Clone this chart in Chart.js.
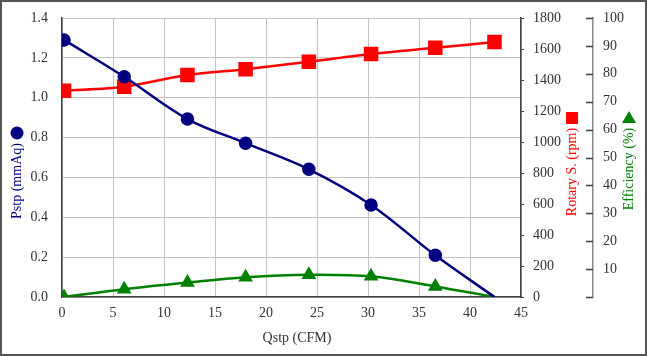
<!DOCTYPE html>
<html>
<head>
<meta charset="utf-8">
<script src="https://cdn.jsdelivr.net/npm/chart.js@4.4.1/dist/chart.umd.min.js"></script>
<style>
  html, body { margin: 0; padding: 0; background: #fff; }
  #wrap { width: 647px; height: 356px; position: relative; }
</style>
</head>
<body>
<div id="wrap"><canvas id="fanChart" width="647" height="356"></canvas></div>
<script>
// data
const qstp = [0.2, 6.1, 12.3, 18.0, 24.2, 30.3, 36.6, 42.4];      // CFM
const pstp = [1.29, 1.105, 0.893, 0.772, 0.641, 0.462, 0.209, 0.0]; // mmAq
const rotarySpeed = [1331, 1357, 1432, 1470, 1518, 1568, 1608, 1645]; // rpm
const efficiency = [0.0, 2.8, 5.2, 7.1, 8.0, 7.4, 3.8, 0.0];        // %

const xTicks = [0, 5, 10, 15, 20, 25, 30, 35, 40, 45];

const FONT = 'Liberation Serif';
const NAVY = '#000080';
const RED = '#ff0000';
const GREEN = '#008000';
const TEXT = '#333333';

function toPoints(ys) {
    return qstp.map((x, i) => ({ x: x, y: ys[i] }));
}

// hide the marker on the last point (where the curve hits the axis)
function hideLast(r, ys) {
    return ys.map((v, i) => i === ys.length - 1 ? 0 : r);
}

// fixed axis width, and no extra room asked for the end labels
function fitWidth(w) {
    return scale => {
        scale.width = w;
        scale.paddingTop = 0;
        scale.paddingBottom = 0;
    };
}

const decorPlugin = {
    id: 'decor',
    afterDraw(chart) {
        const ctx = chart.ctx;
        const y2 = chart.scales.y2;
        ctx.save();

        // tick marks on the efficiency axis, pointing left
        ctx.strokeStyle = '#404040';
        ctx.lineWidth = 1.5;
        y2.ticks.forEach(t => {
            const py = Math.round(y2.getPixelForValue(t.value)) + 0.5;
            ctx.beginPath();
            ctx.moveTo(y2.left - 7, py);
            ctx.lineTo(y2.left, py);
            ctx.stroke();
        });

        ctx.font = '14px "' + FONT + '"';
        ctx.textAlign = 'center';
        ctx.textBaseline = 'middle';

        // x title
        ctx.fillStyle = TEXT;
        ctx.fillText('Qstp (CFM)', 297, 338);

        function vTitle(text, x, y, color) {
            ctx.save();
            ctx.translate(x, y);
            ctx.rotate(-Math.PI / 2);
            ctx.fillStyle = color;
            ctx.fillText(text, 0, 0);
            ctx.restore();
        }

        vTitle('Pstp (mmAq)', 17, 181, NAVY);
        vTitle('Rotary S. (rpm)', 572, 172, RED);
        vTitle('Efficiency (%)', 629, 169, GREEN);

        // legend markers next to titles
        ctx.fillStyle = NAVY;
        ctx.beginPath();
        ctx.arc(17, 133, 6.5, 0, Math.PI * 2);
        ctx.fill();

        ctx.fillStyle = RED;
        ctx.fillRect(566, 112, 12, 12);

        ctx.fillStyle = GREEN;
        ctx.beginPath();
        ctx.moveTo(629, 111);
        ctx.lineTo(636, 123);
        ctx.lineTo(622, 123);
        ctx.closePath();
        ctx.fill();

        // outer frame
        ctx.strokeStyle = '#555555';
        ctx.lineWidth = 2;
        ctx.strokeRect(1, 1, 645, 354);
        ctx.restore();
    }
};

const ctx = document.getElementById('fanChart').getContext('2d');

new Chart(ctx, {
    type: 'line',
    data: {
        datasets: [
            {
                label: 'Pstp (mmAq)',
                data: toPoints(pstp),
                yAxisID: 'y',
                borderColor: NAVY,
                backgroundColor: NAVY,
                borderWidth: 2.5,
                pointStyle: 'circle',
                pointRadius: hideLast(5.5, pstp),
                tension: 0.35
            },
            {
                label: 'Rotary S. (rpm)',
                data: toPoints(rotarySpeed),
                yAxisID: 'y1',
                borderColor: RED,
                backgroundColor: RED,
                borderWidth: 2.5,
                pointStyle: 'rect',
                pointRadius: 8.5,
                tension: 0.3
            },
            {
                label: 'Efficiency (%)',
                data: toPoints(efficiency),
                yAxisID: 'y2',
                borderColor: GREEN,
                backgroundColor: GREEN,
                borderWidth: 2.5,
                pointStyle: 'triangle',
                pointRadius: hideLast(6, efficiency),
                tension: 0.35
            }
        ]
    },
    options: {
        responsive: false,
        animation: false,
        layout: { padding: { left: 0, right: 0, top: 18, bottom: 0 } },
        plugins: {
            legend: { display: false },
            tooltip: { enabled: false }
        },
        scales: {
            x: {
                type: 'linear',
                min: 0,
                max: 45,
                afterBuildTicks: scale => { scale.ticks = xTicks.map(v => ({ value: v })); },
                afterFit: scale => { scale.height = 59; },
                grid: { color: '#c4c4c4', lineWidth: 1, drawTicks: false },
                border: { color: '#404040', width: 1.5 },
                ticks: { color: TEXT, padding: 8, font: { family: FONT, size: 14 } }
            },
            y: {
                position: 'left',
                min: 0,
                max: 1.4,
                afterFit: fitWidth(62),
                grid: { color: '#c4c4c4', lineWidth: 1, drawTicks: false },
                border: { color: '#404040', width: 1.5 },
                ticks: {
                    stepSize: 0.2,
                    color: TEXT,
                    padding: 14,
                    font: { family: FONT, size: 14 },
                    callback: v => v.toFixed(1)
                }
            },
            y1: {
                position: 'right',
                min: 0,
                max: 1800,
                afterFit: fitWidth(72),
                grid: { drawOnChartArea: false, tickLength: 3, color: '#404040' },
                border: { color: '#404040', width: 1.5 },
                ticks: {
                    stepSize: 200,
                    color: TEXT,
                    padding: 9,
                    font: { family: FONT, size: 14 },
                    callback: v => String(v)
                }
            },
            y2: {
                position: 'right',
                min: 0,
                max: 100,
                afterFit: fitWidth(54),
                grid: { display: false, drawTicks: false },
                border: { color: '#8a8a8a', width: 1.5 },
                ticks: {
                    stepSize: 10,
                    color: TEXT,
                    padding: 10,
                    font: { family: FONT, size: 14 },
                    callback: v => v === 0 ? '' : String(v)
                }
            }
        }
    },
    plugins: [decorPlugin]
});
</script>
</body>
</html>
